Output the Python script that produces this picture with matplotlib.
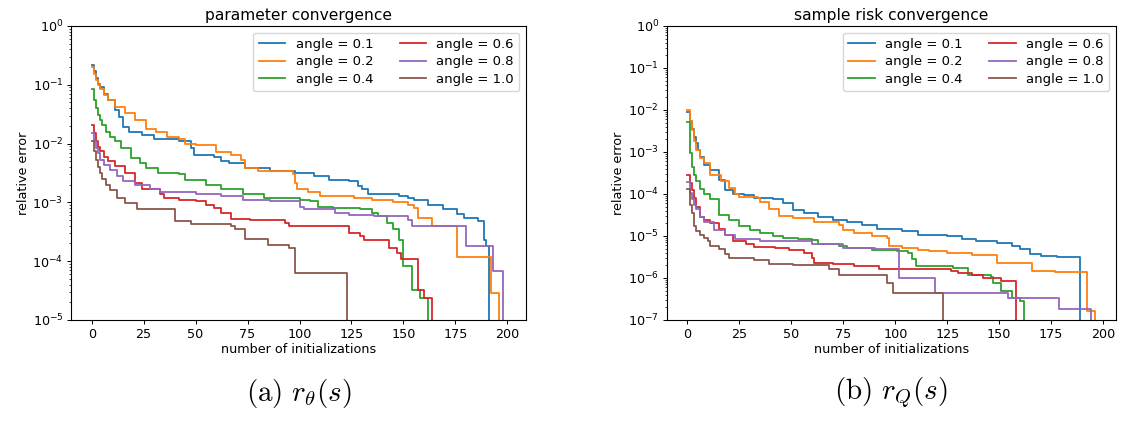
import numpy as np
import matplotlib
matplotlib.use("Agg")
import matplotlib.pyplot as plt

plt.rcParams["mathtext.fontset"] = "cm"

angles = ["0.1", "0.2", "0.4", "0.6", "0.8", "1.0"]
colors = ["#1f77b4", "#ff7f0e", "#2ca02c", "#d62728", "#9467bd", "#8c564b"]

# -----------------------------
# parameter convergence: step change points (x, value)
# -----------------------------
param_x = [
    [0, 1, 2, 3, 4, 6, 8, 11, 13, 15, 18, 24, 30, 42, 48, 49, 59, 62, 66, 74, 86, 98, 107, 114, 124, 128, 130,
     133, 148, 152, 155, 162, 169, 176, 179, 186, 189, 190, 191],
    [0, 1, 2, 3, 4, 6, 8, 11, 16, 21, 26, 31, 36, 42, 45, 50, 60, 67, 72, 74, 80, 97, 98, 99, 104, 110, 126,
     135, 145, 152, 155, 157, 164, 176, 192, 196],
    [0, 1, 2, 3, 4, 5, 7, 9, 11, 14, 19, 23, 26, 32, 42, 45, 55, 62, 73, 83, 100, 105, 109, 116, 129, 135,
     138, 142, 145, 148, 150, 154, 158, 162],
    [0, 1, 2, 3, 4, 6, 8, 11, 16, 21, 24, 33, 35, 42, 50, 55, 59, 62, 67, 76, 93, 95, 124, 129, 131, 143,
     147, 149, 157, 160, 164],
    [0, 1, 2, 3, 4, 6, 9, 12, 15, 21, 28, 33, 50, 62, 73, 86, 100, 102, 117, 124, 136, 152, 154, 180, 193,
     198],
    [0, 1, 2, 3, 4, 5, 7, 9, 12, 16, 22, 40, 48, 67, 69, 74, 85, 95, 98, 123],
]
param_y = [
    [0.22, 0.17, 0.13, 0.105, 0.09, 0.07, 0.055, 0.037, 0.028, 0.019, 0.016, 0.014, 0.012, 0.011, 0.0083,
     0.0065, 0.006, 0.005, 0.0047, 0.0038, 0.0034, 0.0031, 0.0028, 0.0024, 0.0023, 0.0019, 0.0017, 0.0014,
     0.0013, 0.0012, 0.0011, 0.00091, 0.00076, 0.00063, 0.00054, 0.00048, 0.00023, 0.00018, 1e-12],
    [0.2, 0.155, 0.12, 0.1, 0.085, 0.068, 0.055, 0.042, 0.033, 0.025, 0.018, 0.016, 0.013, 0.012, 0.010,
     0.0093, 0.0073, 0.0065, 0.0053, 0.0038, 0.0034, 0.003, 0.0021, 0.0017, 0.0015, 0.00126, 0.0012, 0.0011,
     0.001, 0.00091, 0.0008, 0.00054, 0.00039, 0.00012, 0.000029, 1e-12],
    [0.085, 0.055, 0.04, 0.031, 0.025, 0.021, 0.016, 0.013, 0.011, 0.0083, 0.0056, 0.0047, 0.0038, 0.0031,
     0.003, 0.0024, 0.002, 0.0017, 0.0014, 0.0012, 0.0011, 0.00105, 0.00085, 0.0008, 0.00076, 0.00066,
     0.00058, 0.00045, 0.00035, 0.00023, 0.000083, 0.000033, 0.000024, 1e-12],
    [0.021, 0.015, 0.011, 0.0088, 0.0075, 0.006, 0.005, 0.0041, 0.0031, 0.0021, 0.0017, 0.0014, 0.0012,
     0.0011, 0.00105, 0.00091, 0.0008, 0.00066, 0.00053, 0.0005, 0.00045, 0.00039, 0.0003, 0.00027, 0.00023,
     0.00017, 0.00014, 0.00011, 0.000033, 0.000024, 1e-12],
    [0.015, 0.011, 0.0085, 0.0068, 0.0052, 0.0043, 0.0036, 0.0028, 0.0023, 0.002, 0.0017, 0.0015, 0.0014,
     0.0013, 0.0011, 0.00105, 0.00085, 0.00076, 0.00066, 0.0006, 0.00058, 0.0005, 0.0004, 0.00018, 0.000068,
     1e-12],
    [0.011, 0.0075, 0.0053, 0.004, 0.0031, 0.0025, 0.002, 0.0016, 0.0012, 0.00097, 0.00076, 0.00048, 0.00043,
     0.0004, 0.00035, 0.00024, 0.00019, 0.00017, 0.000063, 1e-12],
]

# -----------------------------
# sample risk convergence: step change points (x, value)
# -----------------------------
risk_x = [
    [0, 1, 2, 3, 4, 5, 6, 8, 11, 15, 18, 22, 27, 32, 41, 46, 51, 56, 63, 70, 77, 84, 91, 103, 111, 125, 132,
     139, 149, 156, 160, 165, 170, 178, 189],
    [0, 1, 2, 3, 4, 6, 8, 11, 16, 20, 23, 25, 34, 35, 39, 44, 51, 61, 73, 75, 80, 89, 96, 97, 103, 111, 116,
     125, 137, 149, 166, 177, 192, 196],
    [0, 1, 2, 3, 4, 6, 8, 11, 15, 20, 25, 30, 35, 41, 46, 53, 60, 63, 73, 77, 89, 101, 106, 108, 110, 128,
     135, 146, 147, 151, 156, 160, 162],
    [0, 1, 2, 3, 4, 6, 8, 11, 15, 18, 22, 28, 32, 42, 49, 56, 60, 61, 70, 80, 92, 127, 130, 137, 142, 151,
     158],
    [0, 1, 2, 3, 4, 6, 8, 13, 18, 23, 35, 60, 75, 90, 102, 119, 154, 179, 194],
    [0, 1, 2, 3, 4, 6, 8, 10, 11, 15, 18, 20, 32, 39, 51, 68, 73, 96, 99, 123],
]
risk_y = [
    [0.009, 0.0055, 0.0035, 0.0023, 0.0016, 0.0011, 0.00078, 0.00049, 0.00037, 0.00022, 0.000126, 0.0001,
     0.000097, 0.000081, 0.000078, 0.000062, 0.000042, 0.000035, 0.000029, 0.000024, 0.000021, 0.0000185,
     0.000015, 0.000013, 0.0000105, 0.0000098, 0.0000086, 0.0000074, 0.0000069, 0.0000058, 0.0000049,
     0.0000037, 0.0000034, 0.0000031, 1e-14],
    [0.01, 0.0055, 0.0034, 0.0018, 0.0011, 0.0007, 0.00054, 0.00028, 0.0002, 0.00014, 0.0001, 0.000087,
     0.00008, 0.000063, 0.000043, 0.00003, 0.000027, 0.000022, 0.0000185, 0.000014, 0.000012, 0.00001,
     0.000009, 0.0000059, 0.0000052, 0.0000046, 0.0000043, 0.000004, 0.0000036, 0.0000023, 0.0000015,
     0.0000014, 0.00000016, 1e-14],
    [0.0052, 0.00093, 0.00045, 0.00028, 0.0002, 0.00013, 0.0001, 0.000074, 0.000032, 0.000024, 0.000017,
     0.000014, 0.000012, 0.00001, 0.000009, 0.0000086, 0.000008, 0.0000063, 0.0000059, 0.0000052,
     0.0000046, 0.0000043, 0.000004, 0.0000028, 0.0000019, 0.0000017, 0.0000012, 0.00000105, 0.00000076,
     0.00000049, 0.00000034, 0.00000028, 1e-14],
    [0.00029, 0.00018, 0.000125, 0.00008, 0.00005, 0.000029, 0.000024, 0.00002, 0.000015, 0.0000105,
     0.0000074, 0.0000063, 0.0000055, 0.0000052, 0.0000046, 0.000004, 0.000003, 0.0000023, 0.0000021,
     0.0000019, 0.0000016, 0.0000015, 0.0000013, 0.0000012, 0.000001, 0.00000087, 1e-14],
    [0.00019, 0.000105, 0.000074, 0.000055, 0.000043, 0.000029, 0.000022, 0.000014, 0.0000105, 0.0000086,
     0.0000074, 0.0000063, 0.0000052, 0.000005, 0.000001, 0.00000043, 0.00000034, 0.00000018, 1e-14],
    [0.00013, 0.000055, 0.000035, 0.000017, 0.000013, 0.0000105, 0.000009, 0.0000075, 0.0000059, 0.0000049,
     0.0000037, 0.000003, 0.0000027, 0.0000021, 0.000002, 0.0000016, 0.0000012, 0.00000076, 0.00000043,
     1e-14],
]

FS = 9.2

fig = plt.figure(figsize=(11.21, 4.24), dpi=100)
ax1 = fig.add_axes([0.0633, 0.2453, 0.4059, 0.6934])
ax2 = fig.add_axes([0.5947, 0.2453, 0.4005, 0.6934])


def draw_panel(ax, xs, ys, title, ylim):

    for i in range(len(angles)):
        ax.plot(xs[i], ys[i], drawstyle="steps-post", color=colors[i], lw=1.3,
                label="angle = " + angles[i])

    ax.set_yscale("log")
    ax.set_ylim(ylim)
    ax.set_xlim(-10, 209)
    ax.set_xticks([0, 25, 50, 75, 100, 125, 150, 175, 200])
    ax.set_title(title, fontsize=11.2, pad=4)
    ax.set_xlabel("number of initializations", fontsize=FS, labelpad=2)
    ax.set_ylabel("relative error", fontsize=FS, labelpad=2)
    ax.tick_params(labelsize=FS, length=3, width=0.7, pad=2.5)
    ax.tick_params(which="minor", length=1.8, width=0.5)
    for s in ax.spines.values():
        s.set_linewidth(0.8)
    ax.legend(ncol=2, loc="upper right", fontsize=9.5, handlelength=2.0,
              columnspacing=2.0, borderpad=0.4, labelspacing=0.35)


draw_panel(ax1, param_x, param_y, "parameter convergence", (1e-5, 1))
draw_panel(ax2, risk_x, risk_y, "sample risk convergence", (1e-7, 1))
ax2.set_xlim(-10, 206)

fig.text(0.2663, 0.073, r"$\mathrm{(a)}\ r_\theta(s)$", ha="center", va="center", fontsize=21)
fig.text(0.7949, 0.073, r"$\mathrm{(b)}\ r_Q(s)$", ha="center", va="center", fontsize=21)

fig.savefig("out.png", dpi=100)
